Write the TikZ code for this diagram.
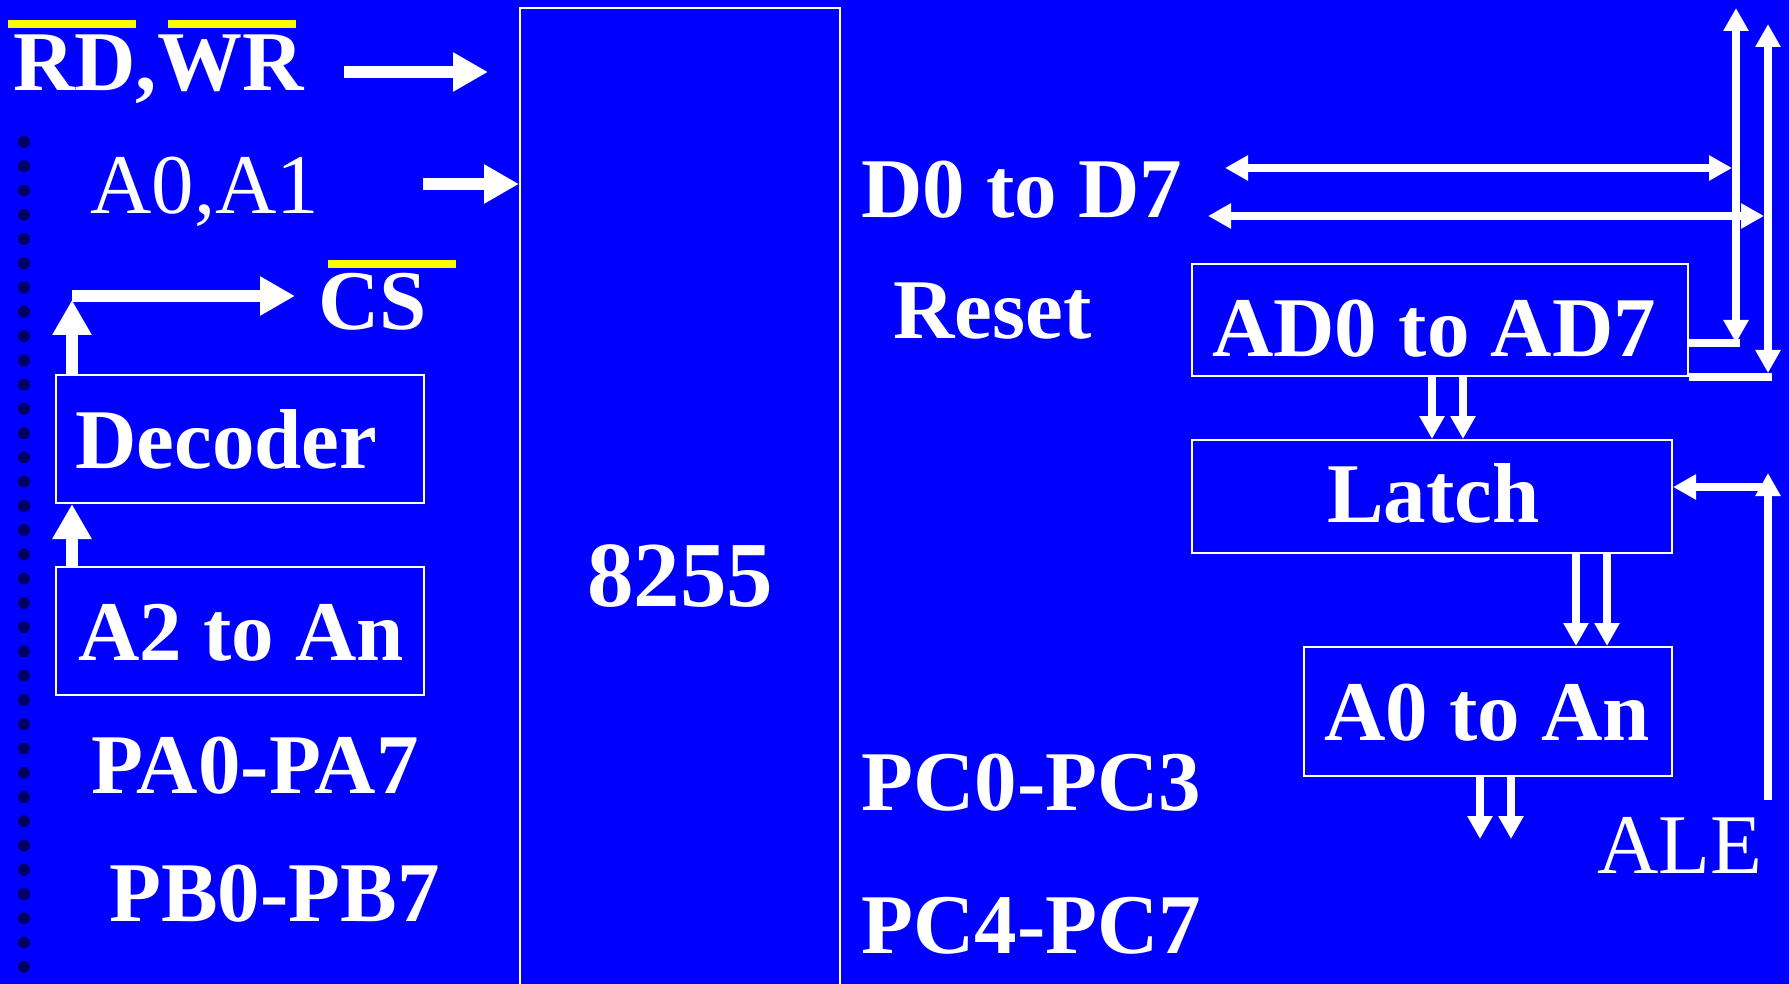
\documentclass[tikz,border=0pt]{standalone}
\usepackage{fontspec}
\setmainfont{Liberation Serif}
\usetikzlibrary{arrows.meta}
\definecolor{bgblue}{RGB}{0,0,255}
\definecolor{dotnavy}{RGB}{0,0,100}
\definecolor{baryellow}{RGB}{255,255,0}
\begin{document}
\begin{tikzpicture}[x=1pt,y=-1pt,
  lbl/.style={text=white,font=\bfseries\fontsize{85}{85}\selectfont,inner sep=0pt,anchor=base west},
  lblr/.style={text=white,font=\fontsize{85}{85}\selectfont,inner sep=0pt,anchor=base west},
  blk/.style={draw=white,line width=2pt,inner sep=0pt},
  fatarrow/.style={draw=white,line width=12pt,-{Triangle[length=35pt,width=37pt]}},
  busarrow/.style={draw=white,line width=8pt,-{Triangle[length=23pt,width=24pt]}},
  busboth/.style={draw=white,line width=8pt,{Triangle[length=23pt,width=24pt]}-{Triangle[length=23pt,width=24pt]}},
  busline/.style={draw=white,line width=8pt},
  bar/.style={fill=baryellow}]
\clip (0,0) rectangle (1789,984);
\fill[bgblue] (0,0) rectangle (1789,984);
% dots
\foreach \i in {0,...,34} \fill[dotnavy] (24,{142+24.26*\i}) circle (6pt);
% boxes
\node[blk,minimum width=320pt,minimum height=982pt] (chip) at (680,499) {};
\node[blk,minimum width=368pt,minimum height=128pt] (dec) at (240,439) {};
\node[blk,minimum width=368pt,minimum height=128pt] (a2box) at (240,631) {};
\node[blk,minimum width=496pt,minimum height=112pt] (adbox) at (1440,320) {};
\node[blk,minimum width=480pt,minimum height=113pt] (latch) at (1432,496.5) {};
\node[blk,minimum width=368pt,minimum height=129pt] (a0box) at (1488,711.5) {};
% texts
\node[lbl] (rdwr) at (13,91) {RD,WR};
\fill[bar] (8,20) rectangle (136,28);
\fill[bar] (168,20) rectangle (296,28);
\node[lblr] (a01) at (90,214) {A0,A1};
\node[lbl] (cs) at (318,330) {CS};
\fill[bar] (328,260) rectangle (456,268);
\node[lbl] (dectxt) at (75,468) {Decoder};
\node[lbl] (a2txt) at (78,660) {A2 to An};
\node[lbl] (pa) at (91,793) {PA0-PA7};
\node[lbl] (pb) at (109,921) {PB0-PB7};
\node[text=white,font=\bfseries\fontsize{93}{93}\selectfont,inner sep=0pt,anchor=base] (n8255) at (680,606) {8255};
\node[lbl] (d07) at (861,218) {D0 to D7};
\node[lbl] (reset) at (893,339) {Reset};
\node[lbl] (pc03) at (861,810) {PC0-PC3};
\node[lbl] (pc47) at (861,953) {PC4-PC7};
\node[lbl] (adtxt) at (1212,356) {AD0 to AD7};
\node[lbl] (latchtxt) at (1327,522) {Latch};
\node[lbl] (a0txt) at (1324,740) {A0 to An};
\node[lblr] (ale) at (1597,873) {ALE};
% left arrows
\coordinate (rws) at (344,72);
\coordinate (rwe) at (488,72);
\draw[fatarrow] (rws) -- (rwe);
\coordinate (a01s) at (423,184);
\draw[fatarrow] (a01s) -- (a01s -| chip.west);
\coordinate (decx) at (72,0);
\coordinate (csturn) at (72,296);
\coordinate (csend) at (295,296);
\draw[fatarrow] (a2box.north -| decx) -- (dec.south -| decx);
\draw[fatarrow] (dec.north -| decx) -- ([yshift=-4pt]csturn);
\draw[fatarrow] (csturn) -- (csend);
% right bus
\coordinate (b1top) at (1736,8);
\coordinate (b1bot) at (1736,343);
\coordinate (b2top) at (1768,24);
\coordinate (b2bot) at (1768,373);
\draw[busboth] (b1bot) -- (b1top);
\draw[busboth] (b2bot) -- (b2top);
\coordinate (h1l) at (1225,168);
\coordinate (h2l) at (1208,216);
\draw[busboth] (h1l) -- ([xshift=-4pt]h1l -| b1top);
\draw[busboth] (h2l) -- ([xshift=-4pt]h2l -| b2top);
\draw[busline] (adbox.east |- b1bot) -- ([xshift=4pt]b1bot);
\draw[busline] (adbox.south east) -- ([xshift=4pt]adbox.south east -| b2top);
% AD -> latch -> A0
\coordinate (x1) at (1432,0);
\coordinate (x2) at (1463,0);
\coordinate (x3) at (1576,0);
\coordinate (x4) at (1607,0);
\coordinate (x5) at (1480,0);
\coordinate (x6) at (1511,0);
\draw[busarrow] (adbox.south -| x1) -- (latch.north -| x1);
\draw[busarrow] (adbox.south -| x2) -- (latch.north -| x2);
\draw[busarrow] (latch.south -| x3) -- (a0box.north -| x3);
\draw[busarrow] (latch.south -| x4) -- (a0box.north -| x4);
\coordinate (outy) at (0,839);
\draw[busarrow] (a0box.south -| x5) -- (outy -| x5);
\draw[busarrow] (a0box.south -| x6) -- (outy -| x6);
% ALE
\coordinate (alebot) at (1768,800);
\coordinate (aletop) at (1768,473);
\coordinate (alejoin) at (1768,487);
\draw[busarrow] (alebot) -- (aletop);
\draw[busarrow] (alejoin) -- (alejoin -| latch.east);
\end{tikzpicture}
\end{document}
